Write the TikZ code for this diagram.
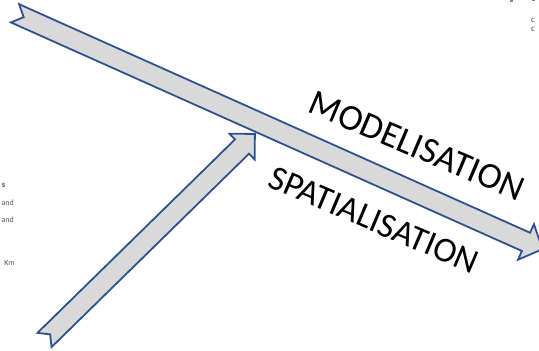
\documentclass[tikz,border=0pt]{standalone}
\usepackage{fontspec}
\setmainfont{Carlito}
\definecolor{arrowblue}{HTML}{2F528F}
\definecolor{arrowfill}{HTML}{D9D9D9}
\definecolor{ghost}{HTML}{555555}
\begin{document}
\begin{tikzpicture}[x=1pt,y=1pt,
  blockarrow/.style={draw=arrowblue, fill=arrowfill, line width=1.8pt, line join=miter},
  biglabel/.style={inner sep=0pt, rotate=-23},
  ghosttext/.style={font=\fontsize{8}{9}\selectfont, text=ghost, inner sep=0pt}]
\useasboundingbox (0,0) rectangle (539,351);
\begin{scope}
\clip (0,0) rectangle (539,351);
% background remnants
\node[ghosttext, anchor=east, font=\fontsize{8.5}{9}\selectfont\bfseries] (g1) at (5.5,166) {s};
\node[ghosttext, anchor=east] (g2) at (14,148) {and};
\node[ghosttext, anchor=east] (g3) at (14,131) {and};
\node[ghosttext, anchor=east] (g4) at (15,88) {Km};
\node[ghosttext, anchor=west, font=\fontsize{9}{9}\selectfont] (g5) at (531,331) {c};
\node[ghosttext, anchor=west, font=\fontsize{9}{9}\selectfont] (g6) at (531,322) {c};
\fill[ghost!70] (510,349) rectangle (513,351);
\fill[ghost!70] (532,349.5) rectangle (534.5,351);
% short arrow (bottom-left to junction)
\begin{scope}[shift={(44.5,11)}, rotate=44.4]
\draw[blockarrow] (0,10) -- (276.5,10) -- (276.5,18) -- (294.5,0) -- (276.5,-18) -- (276.5,-10) -- (0,-10) -- (8,0) -- cycle;
\end{scope}
% long arrow (top-left to bottom-right)
\begin{scope}[shift={(15,337.7)}, rotate=-24.1]
\draw[blockarrow] (0,10) -- (559.8,10) -- (559.8,19.5) -- (577.8,0) -- (559.8,-19.5) -- (559.8,-10) -- (0,-10) -- (9.5,0) -- cycle;
\end{scope}
\end{scope}
\node[biglabel, font=\fontsize{36.5}{40}\selectfont] (model) at (417,205) {MODELISATION};
\node[biglabel, font=\fontsize{35}{40}\selectfont] (spat) at (374,131) {SPATIALISATION};
\end{tikzpicture}
\end{document}
